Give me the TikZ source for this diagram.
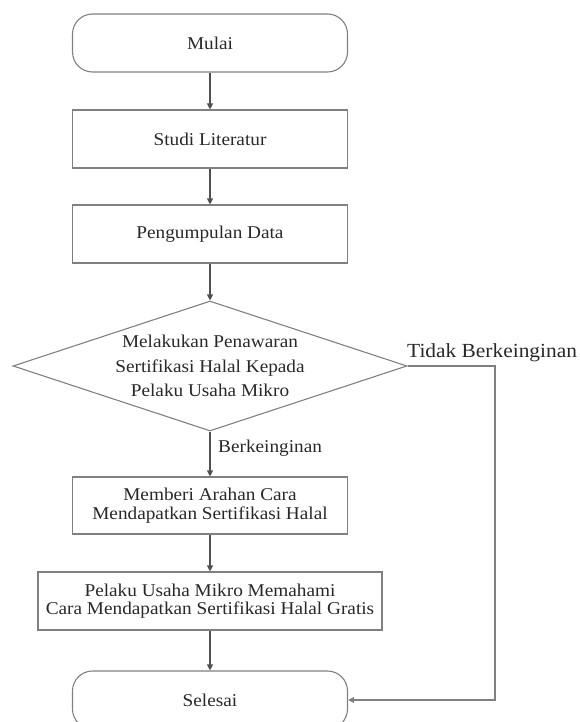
\documentclass[tikz,border=0pt]{standalone}
\usepackage{fontspec}
\setmainfont[FakeStretch=1.07]{Liberation Serif}
\usetikzlibrary{shapes.geometric,arrows.meta}
\definecolor{edgec}{RGB}{128,128,128}
\definecolor{arrc}{RGB}{80,80,80}
\definecolor{txtc}{RGB}{40,40,40}
\begin{document}
\begin{tikzpicture}[x=1pt,y=-1pt,
  every node/.style={text=txtc, font=\fontsize{18}{18.5}\selectfont},
  term/.style={draw=edgec, line width=1.1pt, rounded corners=20pt, minimum width=275pt, minimum height=58pt, inner sep=0pt},
  proc/.style={draw=edgec, line width=1.1pt, minimum width=275pt, minimum height=58pt, inner sep=0pt, align=center},
  dec/.style={diamond, draw=edgec, line width=1.1pt, aspect=3.03, minimum width=394pt, minimum height=130pt, inner sep=0pt, align=center, font=\fontsize{18}{24.5}\selectfont},
  arr/.style={draw=arrc, line width=1.1pt, -{Triangle[width=6pt,length=6pt]}},
  lbl/.style={inner sep=0pt}]
\useasboundingbox (0,0) rectangle (580,722);
\node[term] (start) at (210,43) {Mulai};
\node[proc] (lit) at (210,139) {Studi Literatur};
\node[proc] (data) at (210,234) {Pengumpulan Data};
\node[dec] (offer) at (210,366) {Melakukan Penawaran\\Sertifikasi Halal Kepada\\Pelaku Usaha Mikro};
\node[proc, minimum height=57pt] (guide) at (210,505.5) {Memberi Arahan Cara\\Mendapatkan Sertifikasi Halal};
\node[proc, minimum width=344pt] (understand) at (210,601) {Pelaku Usaha Mikro Memahami\\Cara Mendapatkan Sertifikasi Halal Gratis};
\node[term] (finish) at (210,700) {Selesai};
\coordinate (c1) at (495,366);
\coordinate (c2) at (495,700);
\node[lbl, anchor=west] (yes) at (218,448) {Berkeinginan};
\node[lbl, anchor=base west, font=\fontsize{20}{20}\selectfont] (no) at (407,357) {Tidak Berkeinginan};
\draw[arr] (start) -- (lit);
\draw[arr] (lit) -- (data);
\draw[arr] (data) -- (offer.north);
\draw[arr] (offer.south) -- (guide);
\draw[arr] (guide) -- (understand);
\draw[arr] (understand) -- (finish);
\draw[arr, draw=edgec] (offer.east) -- (c1) -- (c2) -- (finish.east);
\end{tikzpicture}
\end{document}
